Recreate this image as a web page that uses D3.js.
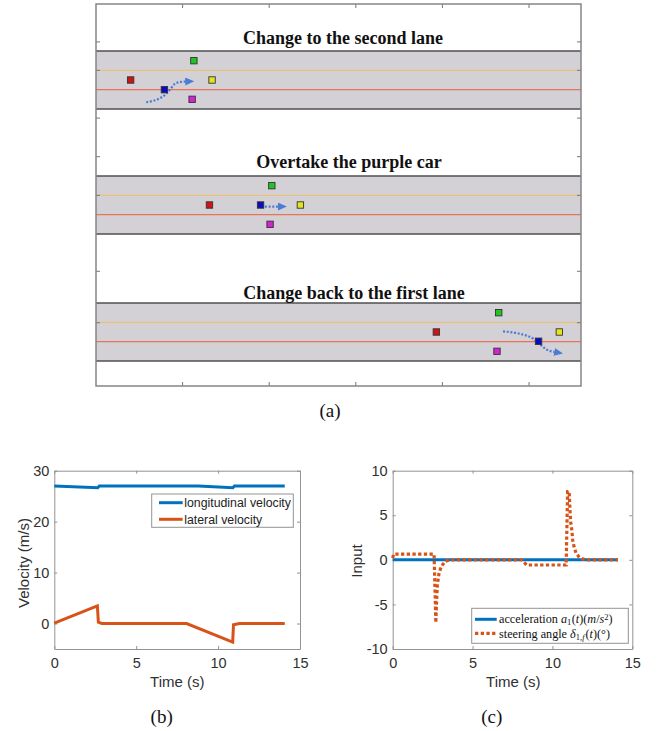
<!DOCTYPE html>
<html>
<head>
<meta charset="utf-8">
<script src="https://cdn.jsdelivr.net/npm/d3@7"></script>
<style>
  body { margin: 0; background: #fff; }
</style>
</head>
<body>
<svg id="fig" width="660" height="731"></svg>
<script>
// ---- (a) road snapshots ----
const frameTitles = ["Change to the second lane", "Overtake the purple car", "Change back to the first lane"];
const carNames = ["red", "green", "yellow", "blue", "magenta"];
// longitudinal position (m) and lateral position (lanes, 0 = bottom edge)
const carX = [
  [40, 113, 134, 79, 111],
  [131, 203, 236, 190, 201],
  [393, 465, 535, 511, 463]
];
const carLane = [
  [1.5, 2.5, 1.5, 1.0, 0.5],
  [1.5, 2.5, 1.5, 1.5, 0.5],
  [1.5, 2.5, 1.5, 1.02, 0.5]
];
const arrowX = [
  [58, 77, 85, 91, 98, 103],
  [195, 210],
  [470, 490, 505, 513, 520, 529]
];
const arrowLane = [
  [0.35, 0.64, 0.98, 1.3, 1.4, 1.42],
  [1.42, 1.42],
  [1.53, 1.4, 1.15, 0.85, 0.6, 0.47]
];
const roadTicks = [100, 200, 300, 400, 500];
const laneTicks = [[3.47, 2, -0.47], [4, 2], [4.64, 1.98]];

// ---- (b) velocities ----
const lonTime = [0, 2.65, 2.75, 8.8, 10.9, 11.0, 14.07];
const lonVel  = [27.0, 26.65, 27.0, 27.0, 26.65, 27.0, 27.0];
const latTime = [0, 2.63, 2.69, 2.9, 8.08, 10.89, 10.94, 11.3, 14.07];
const latVel  = [0.1, 3.47, 0.25, 0, 0, -3.65, -0.25, 0, 0];

// ---- (c) inputs ----
const accTime = [0, 14.1];
const accVal  = [0, 0];
const steerTime = [0, 0.06, 2.59, 2.7, 2.75, 2.8, 2.9, 3.05, 3.3, 3.6, 8.07, 8.39, 10.86, 10.95, 11.05, 11.1, 11.15, 11.21, 11.27, 11.35, 11.48, 11.68, 11.93, 12.2, 14.1];
const steerVal  = [0.2, 0.64, 0.64, -7.05, -4.5, -2.8, -1.5, -0.7, -0.15, 0, 0, -0.58, -0.58, 7.66, 7.66, 5.5, 4.1, 3.4, 2.2, 1.5, 0.75, 0.3, 0.08, 0, 0];

const timeTicks = [0, 5, 10, 15];
const velTicks = [0, 10, 20, 30];
const inputTicks = [-10, -5, 0, 5, 10];

const carColor = { red: "#d01414", green: "#22c422", yellow: "#e4e41c", blue: "#0b0bc4", magenta: "#d322d3" };
const blue = "#0072BD", orange = "#D95319";
const serif = "'Liberation Serif','Times New Roman',serif";
const sans = "'Liberation Sans',Arial,sans-serif";

const svg = d3.select("#fig");
svg.append("rect").attr("width", 660).attr("height", 731).attr("fill", "#fff");

// ================= panel (a) =================
const boxA = { x0: 96, x1: 581, y0: 4, y1: 386 };
const roadTop = [51, 176, 303], roadH = 58;
const titlePos = [[343, 44], [349, 168], [354, 299]];
const xA = d3.scaleLinear().domain([0, 560]).range([boxA.x0, boxA.x1]);

const gA = svg.append("g");
svg.append("defs").append("marker")
    .attr("id", "head")
    .attr("markerUnits", "userSpaceOnUse")
    .attr("markerWidth", 10).attr("markerHeight", 8)
    .attr("refX", 0).attr("refY", 4)
    .attr("orient", "auto")
  .append("path")
    .attr("d", "M0,0 L9,4 L0,8 Z")
    .attr("fill", "#4a7cd4");

frameTitles.forEach((title, i) => {
  const y = d3.scaleLinear().domain([0, 3]).range([roadTop[i] + roadH, roadTop[i]]);
  const g = gA.append("g");

  g.append("rect")
      .attr("x", xA(0)).attr("y", y(3))
      .attr("width", xA(560) - xA(0)).attr("height", y(0) - y(3))
      .attr("fill", "#d3d0d6");
  [3, 0].forEach(v => g.append("line")
      .attr("x1", xA(0)).attr("x2", xA(560))
      .attr("y1", y(v)).attr("y2", y(v))
      .attr("stroke", "#4f4f4f").attr("stroke-width", 1.6));
  g.append("line").attr("x1", xA(0)).attr("x2", xA(560))
      .attr("y1", y(2)).attr("y2", y(2))
      .attr("stroke", "#e8c27c").attr("stroke-width", 1.3);
  g.append("line").attr("x1", xA(0)).attr("x2", xA(560))
      .attr("y1", y(1)).attr("y2", y(1))
      .attr("stroke", "#e7735a").attr("stroke-width", 1.2);

  // planned motion of the ego (blue) car
  const pts = d3.zip(arrowX[i], arrowLane[i]);
  g.append("path")
      .attr("d", d3.line().x(d => xA(d[0])).y(d => y(d[1])).curve(d3.curveMonotoneX)(pts))
      .attr("fill", "none")
      .attr("stroke", "#4a7cd4")
      .attr("stroke-width", 2.2)
      .attr("stroke-dasharray", "2,1.7")
      .attr("marker-end", "url(#head)");

  g.selectAll("rect.car")
    .data(carNames.map((n, j) => ({ n, x: carX[i][j], l: carLane[i][j] })))
    .enter().append("rect")
      .attr("class", "car")
      .attr("x", d => xA(d.x) - 3.2).attr("y", d => y(d.l) - 3.2)
      .attr("width", 6.4).attr("height", 6.4)
      .attr("fill", d => carColor[d.n])
      .attr("stroke", "#333").attr("stroke-width", 0.9);

  g.append("text")
      .attr("x", titlePos[i][0]).attr("y", titlePos[i][1])
      .attr("text-anchor", "middle")
      .style("font-family", serif).style("font-weight", "bold").style("font-size", "18px")
      .attr("fill", "#111")
      .text(title);

  laneTicks[i].forEach(v => {
    g.append("line").attr("x1", boxA.x0).attr("x2", boxA.x0 + 4)
        .attr("y1", y(v)).attr("y2", y(v)).attr("stroke", "#777");
    g.append("line").attr("x1", boxA.x1).attr("x2", boxA.x1 - 4)
        .attr("y1", y(v)).attr("y2", y(v)).attr("stroke", "#777");
  });
});

roadTicks.forEach(v => {
  gA.append("line").attr("x1", xA(v)).attr("x2", xA(v))
      .attr("y1", boxA.y0).attr("y2", boxA.y0 + 4).attr("stroke", "#777");
  gA.append("line").attr("x1", xA(v)).attr("x2", xA(v))
      .attr("y1", boxA.y1).attr("y2", boxA.y1 - 4).attr("stroke", "#777");
});
gA.append("rect")
    .attr("x", boxA.x0).attr("y", boxA.y0)
    .attr("width", boxA.x1 - boxA.x0).attr("height", boxA.y1 - boxA.y0)
    .attr("fill", "none").attr("stroke", "#858585").attr("stroke-width", 1.5);

// ================= panels (b) and (c) =================
function drawFrame(x, y, yTicks) {
  const g = svg.append("g");
  const [xl, xr] = x.range(), [yb, yt] = y.range();
  const fmt = d => String(d);
  g.append("g").attr("transform", `translate(0,${yb})`)
    .call(d3.axisBottom(x).tickValues(timeTicks).tickFormat(fmt).tickSizeInner(-3).tickSizeOuter(0).tickPadding(9));
  g.append("g").attr("transform", `translate(0,${yt})`)
    .call(d3.axisTop(x).tickValues(timeTicks).tickFormat("").tickSizeInner(-3).tickSizeOuter(0));
  g.append("g").attr("transform", `translate(${xl},0)`)
    .call(d3.axisLeft(y).tickValues(yTicks).tickFormat(fmt).tickSizeInner(-3).tickSizeOuter(0).tickPadding(5));
  g.append("g").attr("transform", `translate(${xr},0)`)
    .call(d3.axisRight(y).tickValues(yTicks).tickFormat("").tickSizeInner(-3).tickSizeOuter(0));
  g.selectAll(".domain, .tick line").attr("stroke", "#939393");
  g.selectAll(".tick text")
    .style("font-family", sans).style("font-size", "14.5px").attr("fill", "#303030");
  return g;
}

function line(x, y) {
  return d3.line().x(d => x(d[0])).y(d => y(d[1]));
}

// (b)
const xB = d3.scaleLinear().domain([0, 15]).range([54.3, 300]);
const yB = d3.scaleLinear().domain([-5, 30]).range([649, 470.7]);
drawFrame(xB, yB, velTicks);
svg.append("path").attr("d", line(xB, yB)(d3.zip(lonTime, lonVel)))
    .attr("fill", "none").attr("stroke", blue).attr("stroke-width", 3);
svg.append("path").attr("d", line(xB, yB)(d3.zip(latTime, latVel)))
    .attr("fill", "none").attr("stroke", orange).attr("stroke-width", 3);

svg.append("text").attr("x", 177.3).attr("y", 686.5)
    .attr("text-anchor", "middle")
    .style("font-family", sans).style("font-size", "15px").attr("fill", "#303030")
    .text("Time (s)");
svg.append("text").attr("transform", "translate(29,563) rotate(-90)")
    .attr("text-anchor", "middle")
    .style("font-family", sans).style("font-size", "15px").attr("fill", "#303030")
    .text("Velocity (m/s)");

const legB = svg.append("g");
legB.append("rect").attr("x", 151.7).attr("y", 494).attr("width", 141.6).attr("height", 33.3)
    .attr("fill", "#fff").attr("stroke", "#939393");
[["longitudinal velocity", blue, 502.7], ["lateral velocity", orange, 519.3]].forEach(([t, c, yy]) => {
  legB.append("line").attr("x1", 159).attr("x2", 182.7).attr("y1", yy).attr("y2", yy)
      .attr("stroke", c).attr("stroke-width", 3);
  legB.append("text").attr("x", 184.3).attr("y", yy + 4.3)
      .style("font-family", sans).style("font-size", "12.3px").attr("fill", "#222")
      .text(t);
});

// (c)
const xC = d3.scaleLinear().domain([0, 15]).range([392.7, 632.3]);
const yC = d3.scaleLinear().domain([-10, 10]).range([649, 470.7]);
drawFrame(xC, yC, inputTicks);
svg.append("path").attr("d", line(xC, yC)(d3.zip(accTime, accVal)))
    .attr("fill", "none").attr("stroke", blue).attr("stroke-width", 3);
svg.append("path").attr("d", line(xC, yC)(d3.zip(steerTime, steerVal)))
    .attr("fill", "none").attr("stroke", orange).attr("stroke-width", 3.2)
    .attr("stroke-dasharray", "3.3,2.4");

svg.append("text").attr("x", 513.3).attr("y", 686.5)
    .attr("text-anchor", "middle")
    .style("font-family", sans).style("font-size", "15px").attr("fill", "#303030")
    .text("Time (s)");
svg.append("text").attr("transform", "translate(362,561) rotate(-90)")
    .attr("text-anchor", "middle")
    .style("font-family", sans).style("font-size", "15px").attr("fill", "#303030")
    .text("Input");

const legC = svg.append("g");
legC.append("rect").attr("x", 471.7).attr("y", 608.3).attr("width", 156.6).attr("height", 35)
    .attr("fill", "#fff").attr("stroke", "#939393");
legC.append("line").attr("x1", 475).attr("x2", 496.7).attr("y1", 619.3).attr("y2", 619.3)
    .attr("stroke", blue).attr("stroke-width", 3);
legC.append("line").attr("x1", 475).attr("x2", 496.7).attr("y1", 633.3).attr("y2", 633.3)
    .attr("stroke", orange).attr("stroke-width", 3.2).attr("stroke-dasharray", "3.3,2.4");

function mathText(x, y, parts) {
  const t = legC.append("text").attr("x", x).attr("y", y)
      .style("font-family", serif).style("font-size", "12.2px").attr("fill", "#111");
  parts.forEach(p => {
    const s = t.append("tspan").text(p.t);
    if (p.i) s.attr("font-style", "italic");
    if (p.s) s.attr("font-size", "8.5px");
    if (p.dy) s.attr("dy", p.dy);
    if (p.dx) s.attr("dx", p.dx);
  });
}
mathText(499, 623.3, [
  { t: "acceleration " }, { t: "a", i: 1 }, { t: "1", s: 1, dy: 2 }, { t: "(", dy: -2, dx: 0.5 },
  { t: "t", i: 1 }, { t: ")(" }, { t: "m", i: 1 }, { t: "/" }, { t: "s", i: 1 },
  { t: "2", s: 1, dy: -3.5 }, { t: ")", dy: 3.5 }
]);
mathText(499, 637.5, [
  { t: "steering angle " }, { t: "δ", i: 1 }, { t: "1,", s: 1, dy: 2 }, { t: "f", s: 1, i: 1 },
  { t: "(", dy: -2, dx: 1 }, { t: "t", i: 1 }, { t: ")(" }, { t: "°" }, { t: ")" }
]);

// sub-figure captions
[["(a)", 330, 417], ["(b)", 161.7, 723], ["(c)", 491.7, 723]].forEach(([t, x, y]) => {
  svg.append("text").attr("x", x).attr("y", y).attr("text-anchor", "middle")
      .style("font-family", serif).style("font-size", "19px").attr("fill", "#111")
      .text(t);
});
</script>
</body>
</html>
